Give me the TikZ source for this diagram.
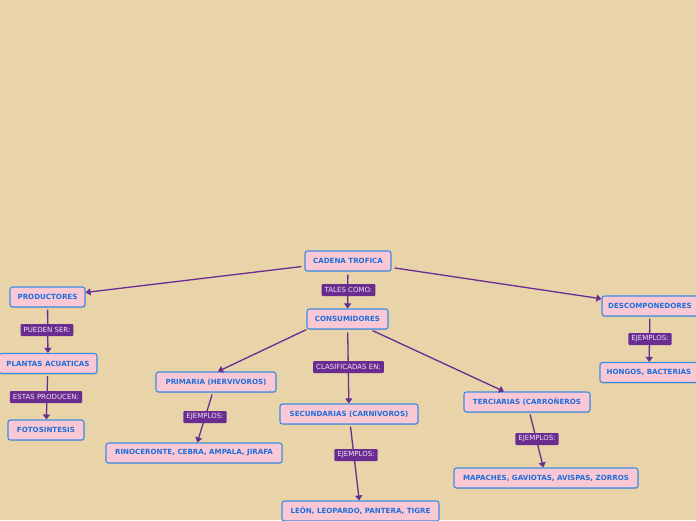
\documentclass[tikz,border=0pt]{standalone}
\usepackage{fontspec}
\setmainfont{DejaVu Sans}
\usetikzlibrary{arrows.meta,shadows,calc}
\definecolor{bg}{HTML}{E8D4A8}
\definecolor{boxfill}{HTML}{FAC8D4}
\definecolor{boxline}{HTML}{3C8CE6}
\definecolor{boxtext}{HTML}{1E6EDC}
\definecolor{conncol}{HTML}{6A2C91}
\definecolor{lbltext}{HTML}{EDE4F5}
\begin{document}
\begin{tikzpicture}[x=1pt,y=-1pt,
  box/.style={draw=boxline, fill=boxfill, rounded corners=2.5pt, line width=1.1pt,
    minimum height=20pt, inner sep=0pt, font=\fontsize{7.1}{8}\selectfont\bfseries,
    text=boxtext, drop shadow={opacity=0.25, shadow xshift=0.6pt, shadow yshift=-1pt}},
  lbl/.style={fill=conncol, text=lbltext, font=\fontsize{7}{8}\selectfont,
    minimum height=12pt, inner xsep=3pt, inner ysep=0pt, rounded corners=1pt},
  conn/.style={draw=conncol, line width=1.3pt, -{Triangle[width=7pt,length=5pt]}}]
\useasboundingbox[fill=bg] (0,0) rectangle (696,520);

\node[box, minimum width=86pt] (cad) at (348,261) {CADENA TROFICA};
\node[box, minimum width=81pt] (cons) at (347.5,319) {CONSUMIDORES};
\node[box, minimum width=75pt] (prod) at (47.5,297) {PRODUCTORES};
\node[box, minimum width=98pt] (plan) at (48,363.5) {PLANTAS ACUATICAS};
\node[box, minimum width=76pt] (foto) at (46,430) {FOTOSINTESIS};
\node[box, minimum width=120pt] (prim) at (216,382) {PRIMARIA (HERVIVOROS)};
\node[box, minimum width=176pt] (rino) at (194,453) {RINOCERONTE, CEBRA, AMPALA, JIRAFA};
\node[box, minimum width=138pt] (sec) at (349,414) {SECUNDARIAS (CARNIVOROS)};
\node[box, minimum width=157pt] (leon) at (360.5,511) {LEÓN, LEOPARDO, PANTERA, TIGRE};
\node[box, minimum width=126pt] (terc) at (527,402) {TERCIARIAS (CARROÑEROS};
\node[box, minimum width=184pt] (map) at (546,478) {MAPACHES, GAVIOTAS, AVISPAS, ZORROS};
\node[box, minimum width=96pt] (desc) at (650,306) {DESCOMPONEDORES};
\node[box, minimum width=98pt] (hong) at (649,372.5) {HONGOS, BACTERIAS};

\draw[conn, shorten <=3pt] (cad) -- (prod);
\draw[conn, shorten <=3pt] (cad) -- (desc);
\draw[conn, shorten <=3pt] (cad) -- (cons);
\draw[conn, shorten <=2pt] (prod) -- (plan);
\draw[conn, shorten <=2pt] (plan) -- (foto);
\draw[conn] (cons.south west) -- ($(prim.north)+(2,0)$);
\draw[conn] ($(cons.south)+(25,1)$) -- ($(terc.north)+(-23,0)$);
\draw[conn, shorten <=3pt] (cons) -- (sec);
\draw[conn, shorten <=2pt] (prim) -- (rino);
\draw[conn, shorten <=2pt] (sec) -- (leon);
\draw[conn, shorten <=2pt] (terc) -- (map);
\draw[conn, shorten <=2pt] (desc) -- (hong);

\node[lbl] (l1) at (348.5,290) {TALES COMO:};
\node[lbl] (l2) at (348.5,367) {CLASIFICADAS EN:};
\node[lbl] (l3) at (47,330) {PUEDEN SER:};
\node[lbl] (l4) at (46,397) {ESTAS PRODUCEN:};
\node[lbl] (l5) at (205,417) {EJEMPLOS:};
\node[lbl] (l6) at (356,455) {EJEMPLOS:};
\node[lbl] (l7) at (537,439) {EJEMPLOS:};
\node[lbl] (l8) at (650,339) {EJEMPLOS:};
\end{tikzpicture}
\end{document}
